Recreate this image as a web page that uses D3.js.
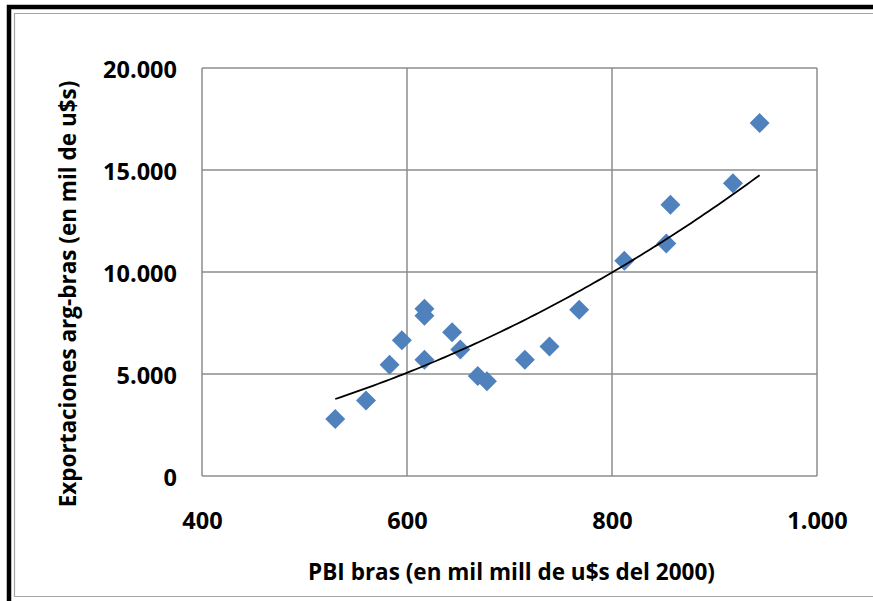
<!DOCTYPE html>
<html>
<head>
<meta charset="utf-8">
<script src="https://cdn.jsdelivr.net/npm/d3@7"></script>
<style>
  html, body { margin: 0; padding: 0; background: #ffffff; }
  svg { display: block; }
  text { font-family: "Open Sans", "DejaVu Sans", sans-serif; font-weight: bold; fill: #000; }
</style>
</head>
<body>
<svg id="chart" width="873" height="601"></svg>
<script>
// PBI de Brasil (mil mill de u$s del 2000) vs exportaciones Argentina-Brasil (mill de u$s)
const pbiBras = [530, 560, 583, 595, 617, 617, 617, 644, 652, 669, 678, 715, 739, 768, 812, 853, 857, 918, 944];
const exportaciones = [2800, 3700, 5450, 6650, 8200, 7850, 5700, 7050, 6200, 4900, 4650, 5700, 6350, 8150, 10550, 11400, 13300, 14350, 17300];
const xTicks = [400, 600, 800, 1000];
const yTicks = [0, 5000, 10000, 15000, 20000];
const xTitle = "PBI bras (en mil mill de u$s del 2000)";
const yTitle = "Exportaciones arg-bras (en mil de u$s)";

const svg = d3.select("#chart");
const W = 873, H = 601;
const plot = { left: 202, right: 817, top: 68, bottom: 476 };

// Es-AR style number format: thousands with "."
const fmt = d3.formatLocale({ decimal: ",", thousands: ".", grouping: [3], currency: ["$", ""] }).format(",.0f");

svg.append("rect").attr("width", W).attr("height", H).attr("fill", "#fff");

// frame: thick black outer edge, thin gray inner edge
svg.append("path")
  .attr("d", `M9,${H + 5} V7 H${W + 5}`)
  .attr("fill", "none").attr("stroke", "#000").attr("stroke-width", 4.5);
svg.append("path")
  .attr("d", `M${W + 5},13.5 H14.5 V596.5 H${W + 5}`)
  .attr("fill", "none").attr("stroke", "#a6a6a6").attr("stroke-width", 1.2);

const x = d3.scaleLinear().domain([400, 1000]).range([plot.left, plot.right]);
const y = d3.scaleLinear().domain([0, 20000]).range([plot.bottom, plot.top]);

// gridlines
const grid = svg.append("g").attr("stroke", "#8c8c8c").attr("stroke-width", 1.5);
grid.selectAll("line.v").data(xTicks).join("line")
  .attr("x1", d => x(d)).attr("x2", d => x(d))
  .attr("y1", plot.top).attr("y2", plot.bottom);
grid.selectAll("line.h").data(yTicks).join("line")
  .attr("x1", plot.left).attr("x2", plot.right)
  .attr("y1", d => y(d)).attr("y2", d => y(d));

// axes (labels only, no domain or tick marks)
const xAxis = d3.axisBottom(x).tickValues(xTicks).tickFormat(fmt).tickSize(0).tickPadding(0);
const gx = svg.append("g").attr("transform", `translate(0,${plot.bottom + 53})`).call(xAxis);
gx.select(".domain").remove();
gx.selectAll("text").attr("dy", 0).attr("font-size", 23.5).attr("font-family", null);

const yAxis = d3.axisLeft(y).tickValues(yTicks).tickFormat(fmt).tickSize(0).tickPadding(0);
const gy = svg.append("g").attr("transform", `translate(177,0)`).call(yAxis);
gy.select(".domain").remove();
gy.selectAll("text").attr("dy", "0.4em").attr("font-size", 23.5).attr("font-family", null);

// power trend y = a * x^b, least squares on ln(x), ln(y)
function powerFit(xs, ys) {
  const lx = xs.map(Math.log), ly = ys.map(Math.log);
  const mx = d3.mean(lx), my = d3.mean(ly);
  let sxy = 0, sxx = 0;
  for (let i = 0; i < lx.length; i++) {
    sxy += (lx[i] - mx) * (ly[i] - my);
    sxx += (lx[i] - mx) * (lx[i] - mx);
  }
  const b = sxy / sxx;
  const a = Math.exp(my - b * mx);
  return { a, b };
}
const fit = powerFit(pbiBras, exportaciones);
const xMin = d3.min(pbiBras), xMax = d3.max(pbiBras);
const trendXs = d3.range(0, 101).map(i => xMin + (xMax - xMin) * i / 100);
const line = d3.line().x(d => x(d)).y(d => y(fit.a * Math.pow(d, fit.b)));

// markers
const pts = pbiBras.map((v, i) => [v, exportaciones[i]]);
svg.append("g").selectAll("path").data(pts).join("path")
  .attr("transform", d => `translate(${x(d[0])},${y(d[1])})`)
  .attr("d", "M0,-10 L10,0 L0,10 L-10,0 Z")
  .attr("fill", "#4f81bd");

svg.append("path").datum(trendXs)
  .attr("d", line)
  .attr("fill", "none").attr("stroke", "#000").attr("stroke-width", 1.8);

// titles
svg.append("text").attr("x", (plot.left + plot.right) / 2 + 2).attr("y", 580)
  .attr("text-anchor", "middle").attr("font-size", 22.5).text(xTitle);
svg.append("text").attr("transform", `translate(76,294) rotate(-90)`)
  .attr("text-anchor", "middle").attr("font-size", 22.5).text(yTitle);
</script>
</body>
</html>
